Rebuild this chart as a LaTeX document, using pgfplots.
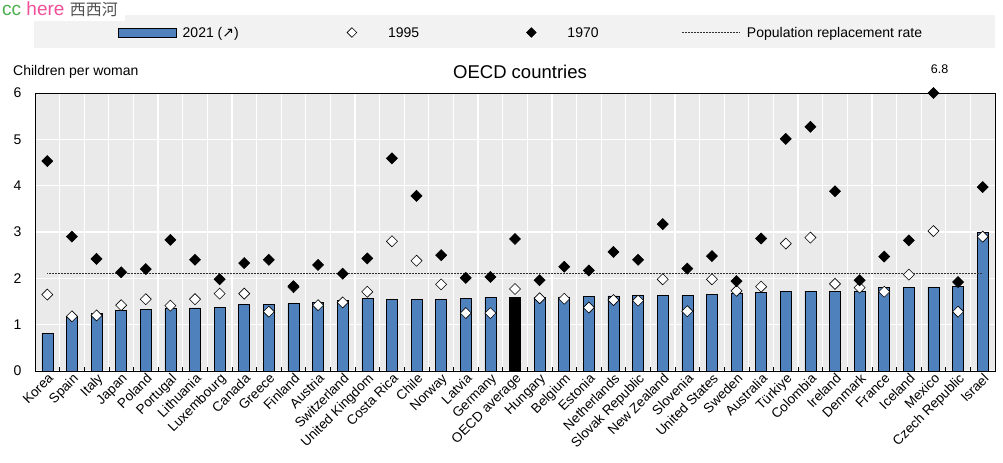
\documentclass[border=0pt]{standalone}
\usepackage{pgfplots}
\pgfplotsset{compat=1.18}
\usepackage{fontspec}
\setmainfont{Liberation Sans}
\newfontfamily\djv{DejaVu Sans}
\newfontfamily\cjk{Noto Sans CJK SC}
\definecolor{barblue}{HTML}{4F81BD}
\definecolor{plotbg}{HTML}{EAEAEA}
\definecolor{legbg}{HTML}{F2F2F2}
\definecolor{ccgreen}{HTML}{4CAF50}
\definecolor{herepink}{HTML}{F0509A}
\definecolor{wmgray}{HTML}{505050}

\begin{document}
\begin{tikzpicture}
\path[use as bounding box] (0,0) rectangle (1003bp,463bp);
\fill[legbg] (34bp,415bp) rectangle (995bp,448bp);
\fill[white] (0,441.5bp) rectangle (125bp,463bp);
\node[anchor=base west, inner sep=0pt] at (2bp,447bp)
  {\fontsize{19bp}{19bp}\selectfont\textcolor{ccgreen}{cc} \textcolor{herepink}{here} {\cjk\fontsize{16bp}{16bp}\selectfont\textcolor{wmgray}{西西河}}};
\node[anchor=base west, inner sep=0pt, font=\fontsize{14bp}{16bp}\selectfont] at (13bp,387bp) {Children per woman};
\node[anchor=base, inner sep=0pt, font=\fontsize{18.5bp}{20bp}\selectfont] at (520bp,384.7bp) {OECD countries};

\begin{axis}[
  at={(35bp,92bp)}, anchor=south west,
  width=960bp, height=278bp, scale only axis,
  xmin=-0.5, xmax=38.5, ymin=0, ymax=6,
  clip=false,
  axis background/.style={fill=plotbg},
  axis line style={black, line width=0.8pt},
  xtick={0,...,38},
  xticklabels={Korea,Spain,Italy,Japan,Poland,Portugal,Lithuania,Luxembourg,Canada,Greece,Finland,Austria,Switzerland,United Kingdom,Costa Rica,Chile,Norway,Latvia,Germany,OECD average,Hungary,Belgium,Estonia,Netherlands,Slovak Republic,New Zealand,Slovenia,United States,Sweden,Australia,Türkiye,Colombia,Ireland,Denmark,France,Iceland,Mexico,Czech Republic,Israel},
  minor xtick={0.5,1.5,...,37.5},
  ytick={0,...,6},
  xminorgrids, ymajorgrids,
  minor grid style={white, line width=1.2pt},
  major grid style={white, line width=1.2pt},
  major tick length=0pt,
  minor tick length=4bp,
  tick align=inside,
  tick pos=left,
  minor tick style={black, line width=0.6pt},
  xticklabel style={font=\fontsize{13.5bp}{15bp}\selectfont, rotate=45, anchor=north east, inner sep=1pt},
  yticklabel style={font=\fontsize{14bp}{16bp}\selectfont, xshift=-10bp},
  /pgf/number format/assume math mode=true,
  legend columns=4,
  legend cell align=left,
  legend style={at={(0.08646,1.2176)}, anchor=west, draw=none, fill=none,
    inner sep=0pt, column sep=0pt, row sep=0pt,
    font=\fontsize{14bp}{16bp}\selectfont,
    nodes={inner xsep=0pt, inner ysep=0pt, text height=10bp, text depth=0pt}},
]
\addlegendimage{legend image code/.code={
  \fill[barblue, draw=black, line width=0.6pt] (0,-4.7bp) rectangle (58bp,4.7bp);
  \path (64bp,0);}}
\addlegendentry{\makebox[148bp][l]{2021 ({\djv ↗})}}
\addlegendimage{legend image code/.code={
  \path (0,0) (57bp,0);
  \filldraw[fill=white, draw=black, line width=0.6pt] (21bp,4.8bp) -- (25.8bp,0) -- (21bp,-4.8bp) -- (16.2bp,0) -- cycle;}}
\addlegendentry{\makebox[123bp][l]{1995}}
\addlegendimage{legend image code/.code={
  \path (0,0) (56bp,0);
  \filldraw[fill=black, draw=black, line width=0.6pt] (20bp,4.8bp) -- (24.8bp,0) -- (20bp,-4.8bp) -- (15.2bp,0) -- cycle;}}
\addlegendentry{\makebox[114bp][l]{1970}}
\addlegendimage{legend image code/.code={
  \draw[black!80, line width=0.6pt, dash pattern=on 0.6pt off 0.9pt] (0,0) -- (57bp,0);
  \path (65bp,0);}}
\addlegendentry{Population replacement rate}

% 2021 bars
\addplot[ybar, bar width=11bp, fill=barblue, draw=black, line width=0.6pt, forget plot] coordinates {
(0,0.81) (1,1.19) (2,1.25) (3,1.30) (4,1.33) (5,1.35) (6,1.36) (7,1.38) (8,1.43) (9,1.43)
(10,1.46) (11,1.48) (12,1.52) (13,1.56) (14,1.55) (15,1.54) (16,1.55) (17,1.57) (18,1.58)
(20,1.59) (21,1.60) (22,1.61) (23,1.62) (24,1.63) (25,1.64) (26,1.64) (27,1.66) (28,1.67)
(29,1.70) (30,1.71) (31,1.72) (32,1.72) (33,1.72) (34,1.80) (35,1.81) (36,1.81) (37,1.83) (38,3.00)};
\addplot[ybar, bar width=11bp, fill=black, draw=black, line width=0.6pt, forget plot] coordinates {(19,1.59)};

% replacement rate
\addplot[black!80, line width=0.6pt, dash pattern=on 0.6pt off 0.9pt, forget plot] coordinates {(0,2.1) (38,2.1)};

% 1995
\addplot[only marks, mark=square*, mark size=3.9bp, mark options={rotate=45, fill=white, draw=black, line width=0.6pt}, forget plot] coordinates {
(0,1.65) (1,1.18) (2,1.20) (3,1.42) (4,1.55) (5,1.41) (6,1.55) (7,1.67) (8,1.67) (9,1.28)
(10,1.81) (11,1.42) (12,1.48) (13,1.71) (14,2.80) (15,2.38) (16,1.87) (17,1.25) (18,1.25)
(19,1.77) (20,1.57) (21,1.56) (22,1.37) (23,1.53) (24,1.52) (25,1.98) (26,1.29) (27,1.98)
(28,1.73) (29,1.82) (30,2.75) (31,2.88) (32,1.88) (33,1.80) (34,1.71) (35,2.08) (36,3.02)
(37,1.28) (38,2.90)};

% 1970
\addplot[only marks, mark=square*, mark size=3.9bp, mark options={rotate=45, fill=black, draw=black, line width=0.6pt}, forget plot] coordinates {
(0,4.53) (1,2.90) (2,2.42) (3,2.13) (4,2.20) (5,2.83) (6,2.40) (7,1.98) (8,2.33) (9,2.40)
(10,1.83) (11,2.29) (12,2.10) (13,2.43) (14,4.59) (15,3.78) (16,2.50) (17,2.01) (18,2.03)
(19,2.85) (20,1.96) (21,2.25) (22,2.17) (23,2.57) (24,2.40) (25,3.17) (26,2.21) (27,2.48)
(28,1.94) (29,2.86) (30,5.01) (31,5.27) (32,3.88) (33,1.96) (34,2.47) (35,2.82) (36,6.00)
(37,1.92) (38,3.97)};

\node[anchor=base, inner sep=0pt, font=\fontsize{12.5bp}{14bp}\selectfont, yshift=20bp] at (axis cs:36.25,6) {6.8};
\end{axis}
\end{tikzpicture}
\end{document}
